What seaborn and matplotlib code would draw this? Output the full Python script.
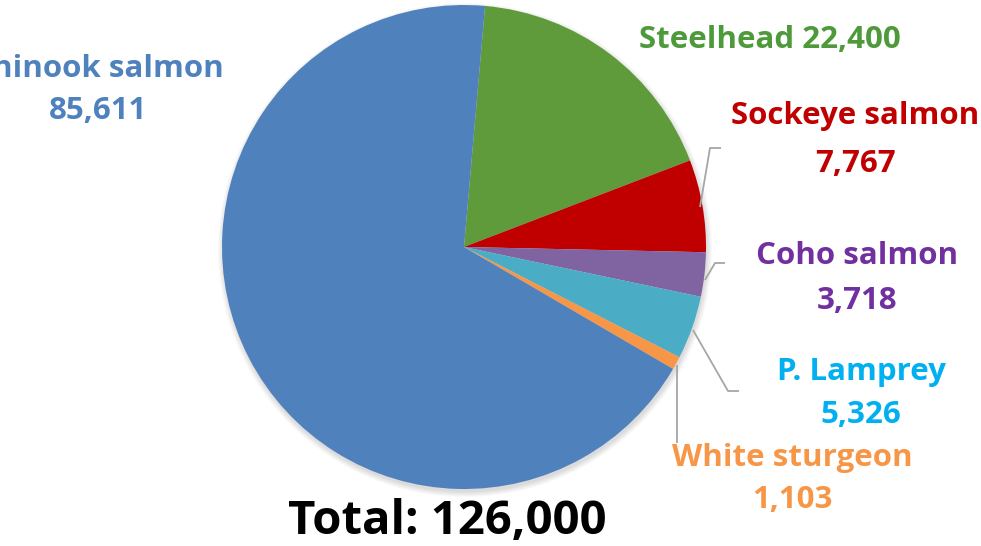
import matplotlib
matplotlib.use("Agg")
import matplotlib.pyplot as plt
import seaborn as sns
from matplotlib.patches import Circle

sns.set_theme(style="white")
plt.rcParams["font.family"] = ["Open Sans", "DejaVu Sans"]

# Fish counts by species (clockwise from the top)
species = ["Steelhead", "Sockeye salmon", "Coho salmon", "P. Lamprey",
           "White sturgeon", "Chinook salmon"]
counts = [22400, 7767, 3718, 5326, 1103, 85611]
total_label = "Total: 126,000"

wedge_colors = ["#5F9A3B", "#C00000", "#8064A2", "#4BACC6", "#F79646", "#4F81BD"]
text_colors = ["#4E9A3B", "#C00000", "#7030A0", "#00B0F0", "#F79646", "#4F81BD"]
palette = sns.color_palette(wedge_colors)

W, H = 981, 546
fig = plt.figure(figsize=(W / 100, H / 100), dpi=100)
fig.patch.set_facecolor("white")
ax = fig.add_axes([0, 0, 1, 1])


def py(y):
    return H - y


cx, cy, r = 464, py(247), 242

# soft drop shadow behind the pie
for k in range(6):
    ax.add_patch(Circle((cx + 1, cy - 3), r + k * 1.0, color="black",
                        alpha=0.025, lw=0, zorder=0))

ax.pie(counts, colors=palette, startangle=85, counterclock=False,
       center=(cx, cy), radius=r, frame=True,
       wedgeprops=dict(linewidth=0, antialiased=True))
ax.set_xlim(0, W)
ax.set_ylim(0, H)
ax.set_aspect("equal")
ax.axis("off")

fs = 22.5
dy = 3  # baseline nudge for the label font
label_pos = {
    "Sockeye salmon": (855, 113, 161),
    "Coho salmon": (857, 253, 298),
    "P. Lamprey": (861, 369, 412),
    "White sturgeon": (792, 455, 497),
    "Chinook salmon": (98, 66, 108),
}
for name, n, col in zip(species, counts, text_colors):
    if name == "Steelhead":
        ax.text(770, py(37 + dy), f"{name} {n:,}", color=col, fontsize=fs,
                fontweight="bold", ha="center", va="center")
        continue
    x, y1, y2 = label_pos[name]
    ax.text(x, py(y1 + dy), name, color=col, fontsize=fs, fontweight="bold",
            ha="center", va="center")
    ax.text(x, py(y2 + dy), f"{n:,}", color=col, fontsize=fs,
            fontweight="bold", ha="center", va="center")

# leader lines
lc = "#A6A6A6"
leaders = [
    [(700, 207), (710, 148), (721, 148)],
    [(705, 280), (715, 263), (725, 263)],
    [(693, 330), (728, 391), (739, 391)],
    [(677, 365), (677, 443)],
]
for pts in leaders:
    xs = [p[0] for p in pts]
    ys = [py(p[1]) for p in pts]
    ax.plot(xs, ys, color=lc, lw=1.3, zorder=1, solid_capstyle="butt")

ax.text(447, py(521), total_label, color="black", fontsize=34,
        fontweight="bold", ha="center", va="center")

fig.savefig("out.png", dpi=100, facecolor="white")
